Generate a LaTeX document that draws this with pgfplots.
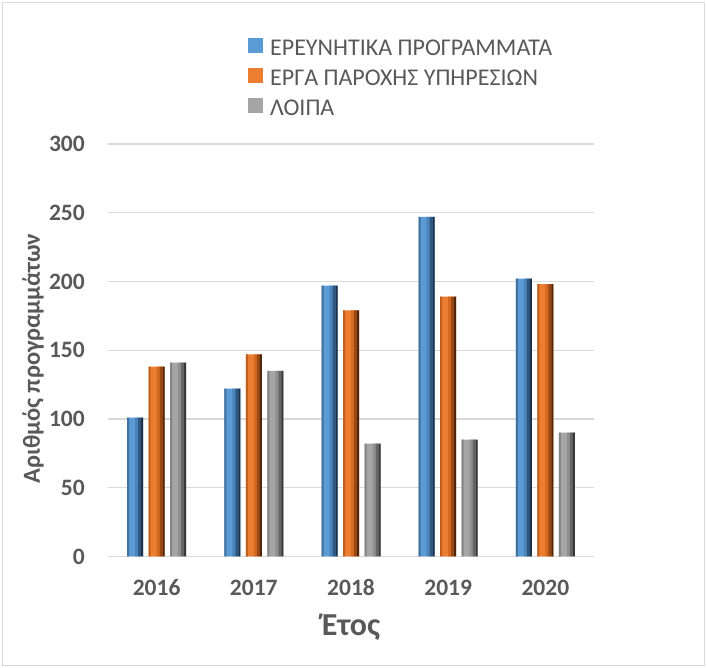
\documentclass[border=0pt]{standalone}
\usepackage{pgfplots}
\usepackage{pgfplotstable}
\pgfplotsset{compat=1.18}
\usepackage{fontspec}
\setmainfont{Carlito}
\definecolor{txt}{HTML}{595959}
\definecolor{gridc}{HTML}{D9D9D9}
\definecolor{bA}{HTML}{41719C}\definecolor{bB}{HTML}{5B9BD5}\definecolor{bC}{HTML}{4A84BA}\definecolor{bD}{HTML}{30587F}\definecolor{bE}{HTML}{1C324A}
\definecolor{oA}{HTML}{C0601F}\definecolor{oB}{HTML}{ED7D31}\definecolor{oC}{HTML}{D46A22}\definecolor{oD}{HTML}{9A4914}\definecolor{oE}{HTML}{4F260A}
\definecolor{gA}{HTML}{858585}\definecolor{gB}{HTML}{A5A5A5}\definecolor{gC}{HTML}{909090}\definecolor{gD}{HTML}{666666}\definecolor{gE}{HTML}{383838}
\pgfplotstableread{
x y
0 101
1 122
2 197
3 247
4 202
}\research
\pgfplotstableread{
x y
0 138
1 147
2 179
3 189
4 198
}\services
\pgfplotstableread{
x y
0 141
1 135
2 82
3 85
4 90
}\other
\begin{document}
\begin{tikzpicture}[x=1pt,y=1pt]
\path (0,0) rectangle (707,668);
\draw[gridc, line width=1.2pt] (2.5,2.5) rectangle (704.5,665.5);
\begin{axis}[
  at={(108pt,111.5pt)}, anchor=south west,
  scale only axis, width=486pt, height=412.5pt,
  ymin=0, ymax=300, ytick={0,50,...,300},
  xmin=-0.5, xmax=4.5, xtick={0,1,2,3,4},
  xticklabels={2016,2017,2018,2019,2020},
  ybar, 
  axis line style={draw=none},
  major tick length=0pt,
  ymajorgrids, grid style={gridc, line width=1.3pt},
  /pgf/number format/assume math mode=true,
  ticklabel style={font=\fontsize{23.5}{27}\selectfont\bfseries, text=txt, inner sep=0pt},
  yticklabel style={xshift=-23pt},
  xticklabel style={yshift=-23pt},
  ylabel={Αριθμός προγραμμάτων},
  ylabel style={at={(axis description cs:-0.154,0.48)}, anchor=center, font=\fontsize{24.5}{28}\selectfont\bfseries, text=txt},
  xlabel={Έτος},
  xlabel style={at={(axis description cs:0.5,-0.171)}, anchor=center, font=\fontsize{32}{36}\selectfont\bfseries, text=txt},
  legend style={at={(axis description cs:0.288,1.257)}, anchor=north west, draw=none, fill=none,
    font=\fontsize{24}{28}\selectfont, text=txt, row sep=11.5pt, inner sep=0pt,
    nodes={inner sep=0pt},
    /tikz/every odd column/.append style={column sep=7pt}},
  legend cell align=left,
  legend image code/.code={\fill[#1] (0pt,-5pt) rectangle (15pt,10pt);},
]
\addplot[draw=none, fill=bB, bar width=16pt, bar shift=-21.5pt] table {\research};
\addplot[draw=none, fill=oB, bar width=16pt, bar shift=0pt] table {\services};
\addplot[draw=none, fill=gB, bar width=16pt, bar shift=21.5pt] table {\other};
\legend{ΕΡΕΥΝΗΤΙΚΑ ΠΡΟΓΡΑΜΜΑΤΑ, ΕΡΓΑ ΠΑΡΟΧΗΣ ΥΠΗΡΕΣΙΩΝ, ΛΟΙΠΑ}
% 3D-look stripes
\addplot[forget plot, draw=none, fill=bA, bar width=2pt, bar shift=-28.5pt] table {\research};
\addplot[forget plot, draw=none, fill=bC, bar width=3pt, bar shift=-20pt] table {\research};
\addplot[forget plot, draw=none, fill=bD, bar width=3pt, bar shift=-17pt] table {\research};
\addplot[forget plot, draw=none, fill=bE, bar width=2pt, bar shift=-14.5pt] table {\research};
\addplot[forget plot, draw=none, fill=oA, bar width=2pt, bar shift=-7pt] table {\services};
\addplot[forget plot, draw=none, fill=oC, bar width=3pt, bar shift=1.5pt] table {\services};
\addplot[forget plot, draw=none, fill=oD, bar width=3pt, bar shift=4.5pt] table {\services};
\addplot[forget plot, draw=none, fill=oE, bar width=2pt, bar shift=7pt] table {\services};
\addplot[forget plot, draw=none, fill=gA, bar width=2pt, bar shift=14.5pt] table {\other};
\addplot[forget plot, draw=none, fill=gC, bar width=3pt, bar shift=23pt] table {\other};
\addplot[forget plot, draw=none, fill=gD, bar width=3pt, bar shift=26pt] table {\other};
\addplot[forget plot, draw=none, fill=gE, bar width=2pt, bar shift=28.5pt] table {\other};
\end{axis}
\end{tikzpicture}
\end{document}
